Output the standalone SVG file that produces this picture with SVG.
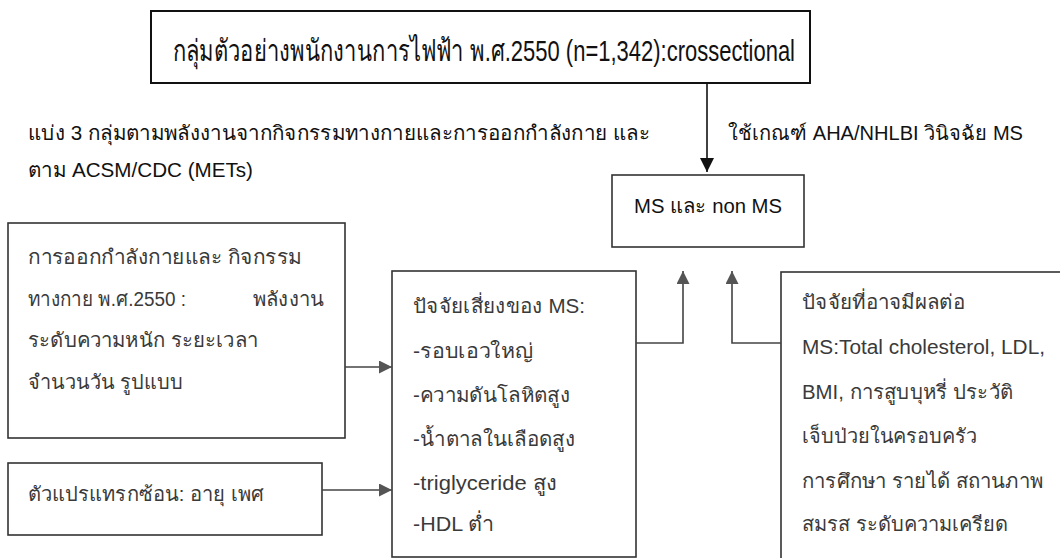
<svg xmlns="http://www.w3.org/2000/svg" width="1060" height="558" viewBox="0 0 1060 558">
<style>
.box{fill:#fff;stroke:#333;stroke-width:1.6}
.top{fill:#fff;stroke:#111;stroke-width:2}
.t{font-family:"Liberation Sans","Noto Sans","DejaVu Sans",sans-serif;fill:#3a3a3a;font-size:20px}
.lbl{font-family:"Liberation Sans","Noto Sans","DejaVu Sans",sans-serif;fill:#111;font-size:20px}
.big{font-family:"Liberation Sans","Noto Sans","DejaVu Sans",sans-serif;fill:#111;font-size:30px}
.c{fill:none;stroke:#444;stroke-width:1.6}
.cd{fill:none;stroke:#111;stroke-width:1.6}
</style>
<defs>
<marker id="ab" viewBox="0 0 10 10" refX="10" refY="5" markerWidth="14" markerHeight="14" markerUnits="userSpaceOnUse" orient="auto">
<path d="M0,0 L10,5 L0,10 Z" fill="#111"/>
</marker>
<marker id="am" viewBox="0 0 10 10" refX="10" refY="5" markerWidth="13" markerHeight="13" markerUnits="userSpaceOnUse" orient="auto">
<path d="M0,0 L10,5 L0,10 Z" fill="#555"/>
</marker>
</defs>
<rect width="1060" height="558" fill="#fff"/>

<g id="sample">
<rect class="top" x="151" y="11" width="659" height="72"/>
<text class="big" x="173" y="61" textLength="622" lengthAdjust="spacingAndGlyphs">กลุ่มตัวอย่างพนักงานการไฟฟ้า พ.ศ.2550 (n=1,342):crossectional</text>
</g>

<g id="label-groups">
<text class="lbl" x="28" y="140" textLength="622" lengthAdjust="spacingAndGlyphs">แบ่ง 3 กลุ่มตามพลังงานจากกิจกรรมทางกายและการออกกำลังกาย และ</text>
<text class="lbl" x="28" y="177" textLength="225" lengthAdjust="spacingAndGlyphs">ตาม ACSM/CDC (METs)</text>
</g>

<g id="label-criteria">
<text class="lbl" x="728" y="140" textLength="295" lengthAdjust="spacingAndGlyphs">ใช้เกณฑ์ AHA/NHLBI วินิจฉัย MS</text>
</g>

<g id="ms">
<rect class="box" x="612" y="175" width="192" height="72"/>
<text class="lbl" x="634" y="213" textLength="148" lengthAdjust="spacingAndGlyphs">MS และ non MS</text>
</g>

<g id="activity">
<rect class="box" x="8" y="223" width="337" height="215"/>
<text class="t" x="28" y="264" textLength="274" lengthAdjust="spacingAndGlyphs">การออกกำลังกายและ  กิจกรรม</text>
<text class="t" x="28" y="306" textLength="158" lengthAdjust="spacingAndGlyphs">ทางกาย พ.ศ.2550 :</text>
<text class="t" x="253" y="306" textLength="71" lengthAdjust="spacingAndGlyphs">พลังงาน</text>
<text class="t" x="28" y="347" textLength="230" lengthAdjust="spacingAndGlyphs">ระดับความหนัก ระยะเวลา</text>
<text class="t" x="28" y="389" textLength="155" lengthAdjust="spacingAndGlyphs">จำนวนวัน รูปแบบ</text>
</g>

<g id="confounders">
<rect class="box" x="8" y="463" width="314" height="72"/>
<text class="t" x="28" y="501" textLength="236" lengthAdjust="spacingAndGlyphs">ตัวแปรแทรกซ้อน: อายุ เพศ</text>
</g>

<g id="risk">
<rect class="box" x="392" y="271" width="244" height="286"/>
<text class="t" x="413" y="313" textLength="172" lengthAdjust="spacingAndGlyphs">ปัจจัยเสี่ยงของ MS:</text>
<text class="t" x="413" y="358" textLength="120" lengthAdjust="spacingAndGlyphs">-รอบเอวใหญ่</text>
<text class="t" x="413" y="402" textLength="157" lengthAdjust="spacingAndGlyphs">-ความดันโลหิตสูง</text>
<text class="t" x="413" y="446" textLength="162" lengthAdjust="spacingAndGlyphs">-น้ำตาลในเลือดสูง</text>
<text class="t" x="413" y="490" textLength="144" lengthAdjust="spacingAndGlyphs">-triglyceride สูง</text>
<text class="t" x="413" y="531" textLength="81" lengthAdjust="spacingAndGlyphs">-HDL ต่ำ</text>
</g>

<g id="other">
<rect class="box" x="781" y="272" width="290" height="290"/>
<text class="t" x="802" y="309" textLength="163" lengthAdjust="spacingAndGlyphs">ปัจจัยที่อาจมีผลต่อ</text>
<text class="t" x="802" y="354" textLength="243" lengthAdjust="spacingAndGlyphs">MS:Total cholesterol, LDL,</text>
<text class="t" x="802" y="399" textLength="211" lengthAdjust="spacingAndGlyphs">BMI, การสูบบุหรี่ ประวัติ</text>
<text class="t" x="802" y="443" textLength="175" lengthAdjust="spacingAndGlyphs">เจ็บป่วยในครอบครัว</text>
<text class="t" x="802" y="488" textLength="241" lengthAdjust="spacingAndGlyphs">การศึกษา รายได้ สถานภาพ</text>
<text class="t" x="802" y="531" textLength="206" lengthAdjust="spacingAndGlyphs">สมรส ระดับความเครียด</text>
</g>

<g id="connectors">
<line class="cd" x1="707" y1="83" x2="707" y2="172" marker-end="url(#ab)"/>
<line class="c" x1="345" y1="367" x2="392" y2="367" marker-end="url(#am)"/>
<line class="c" x1="322" y1="490" x2="392" y2="490" marker-end="url(#am)"/>
<polyline class="c" points="636,343 683,343 683,271" marker-end="url(#am)"/>
<polyline class="c" points="781,343 732,343 732,271" marker-end="url(#am)"/>
</g>
</svg>
